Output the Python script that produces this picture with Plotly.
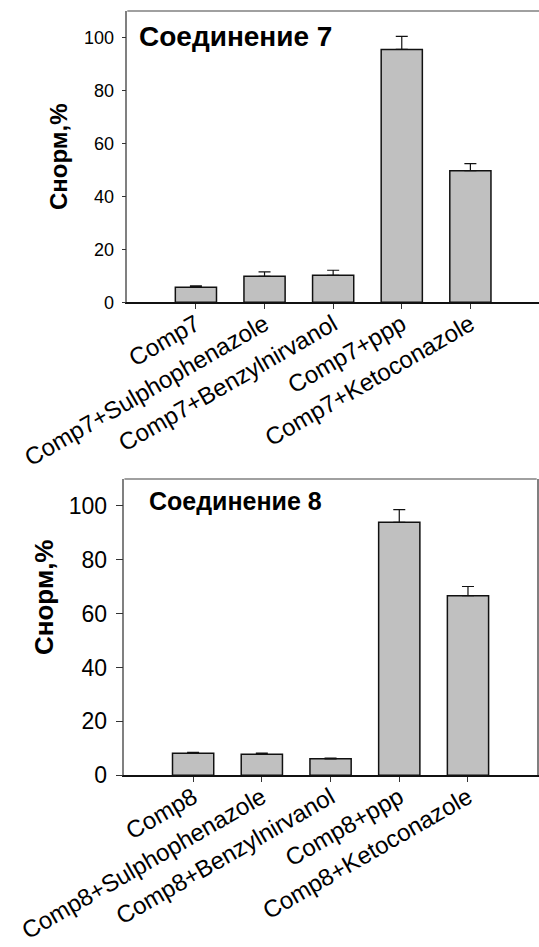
import plotly.graph_objects as go

W, H = 539, 947

cats7 = ["Comp7", "Comp7+Sulphophenazole", "Comp7+Benzylnirvanol", "Comp7+ppp", "Comp7+Ketoconazole"]
vals7 = [5.7, 9.8, 10.2, 95.5, 49.7]
err7 = [0.5, 1.7, 1.9, 4.9, 2.7]

cats8 = ["Comp8", "Comp8+Sulphophenazole", "Comp8+Benzylnirvanol", "Comp8+ppp", "Comp8+Ketoconazole"]
vals8 = [8.2, 7.8, 6.1, 93.9, 66.7]
err8 = [0.3, 0.4, 0.3, 4.7, 3.4]

yticks = [0, 20, 40, 60, 80, 100]
title7 = "Соединение 7"
title8 = "Соединение 8"
ytitle = "Снорм,%"

FONT = "Liberation Sans, Arial, sans-serif"
BAR = "#c0c0c0"
FRAME = "#808080"

def px_x(p):
    return p / W

def px_y(p):
    return 1 - p / H

fig = go.Figure()

def bars(cats, vals, err, xa, ya):
    return go.Bar(
        x=cats, y=vals, width=0.6, xaxis=xa, yaxis=ya,
        marker=dict(color=BAR, line=dict(color="#111111", width=1.5)),
        error_y=dict(type="data", array=err, arrayminus=[0] * len(err), symmetric=False,
                     color="#111111", thickness=1.2, width=6),
        showlegend=False,
    )

fig.add_trace(bars(cats7, vals7, err7, "x", "y"))
fig.add_trace(bars(cats8, vals8, err8, "x2", "y2"))

def xaxis(domain, anchor):
    return dict(domain=domain, anchor=anchor, range=[-1, 5], showline=True, linecolor="#111111",
                linewidth=1.5, ticks="outside", ticklen=5, tickcolor="#333333", tickangle=-30,
                tickfont=dict(family=FONT, size=24, color="black"), showgrid=False, zeroline=False,
                ticklabelstandoff=-8, automargin=False, fixedrange=True)

def yaxis(domain, anchor, fs, tl):
    return dict(domain=domain, anchor=anchor, range=[0, 110], tickvals=yticks, showline=True,
                linecolor=FRAME, linewidth=1.5, mirror=True, ticks="outside", ticklen=tl,
                tickcolor="#333333", tickfont=dict(family=FONT, size=fs, color="black"),
                showgrid=False, zeroline=False, ticklabelstandoff=4, automargin=False)

fig.update_layout(
    width=W, height=H, margin=dict(l=0, r=0, t=0, b=0, autoexpand=False),
    paper_bgcolor="white", plot_bgcolor="white",
    xaxis=xaxis([px_x(127.3), 1.0], "y"),
    yaxis=yaxis([px_y(302.3), px_y(11)], "x", 18, 4),
    xaxis2=xaxis([px_x(124.4), px_x(536.7)], "y2"),
    yaxis2=yaxis([px_y(775.3), px_y(479)], "x2", 23, 7),
    shapes=[
        dict(type="line", xref="x domain", yref="y domain", x0=0, x1=1, y0=1, y1=1,
             line=dict(color=FRAME, width=1.5)),
        dict(type="line", xref="x2 domain", yref="y2 domain", x0=0, x1=1, y0=1, y1=1,
             line=dict(color=FRAME, width=1.5)),
    ],
    annotations=[
        dict(text=f"<b>{title7}</b>", xref="paper", yref="paper", x=px_x(137), y=px_y(36.7),
             xanchor="left", yanchor="middle", showarrow=False,
             font=dict(family=FONT, size=28, color="black")),
        dict(text=f"<b>{title8}</b>", xref="paper", yref="paper", x=px_x(146.5), y=px_y(501),
             xanchor="left", yanchor="middle", showarrow=False,
             font=dict(family=FONT, size=25, color="black")),
        dict(text=f"<b>{ytitle}</b>", xref="paper", yref="paper", x=px_x(58.5), y=px_y(156.5),
             xanchor="center", yanchor="middle", textangle=-90, showarrow=False,
             font=dict(family=FONT, size=24, color="black")),
        dict(text=f"<b>{ytitle}</b>", xref="paper", yref="paper", x=px_x(44), y=px_y(598),
             xanchor="center", yanchor="middle", textangle=-90, showarrow=False,
             font=dict(family=FONT, size=26, color="black")),
    ],
)

fig.write_html("out.html")
